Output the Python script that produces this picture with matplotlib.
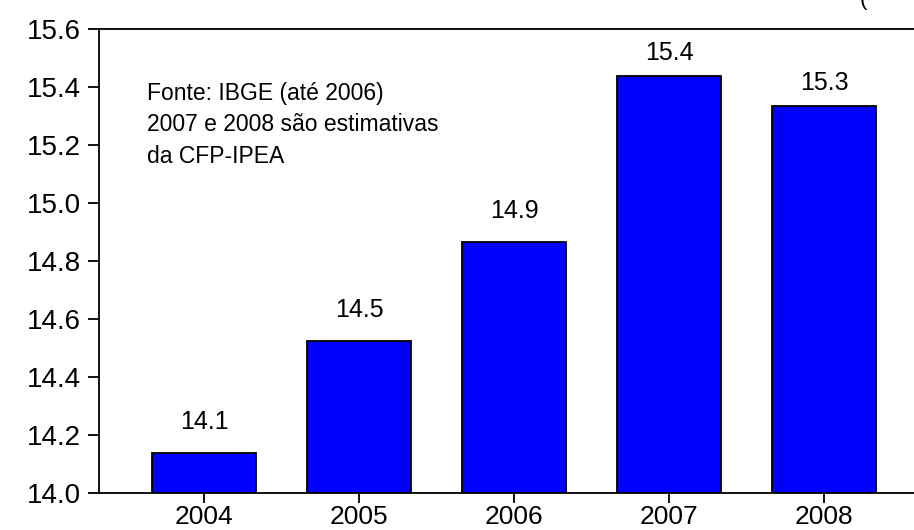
import matplotlib
matplotlib.use("Agg")
import matplotlib.pyplot as plt

years = ["2004", "2005", "2006", "2007", "2008"]
values = [14.138, 14.524, 14.866, 15.438, 15.334]
labels = ["14.1", "14.5", "14.9", "15.4", "15.3"]
yticks = [14.0, 14.2, 14.4, 14.6, 14.8, 15.0, 15.2, 15.4, 15.6]

plt.rcParams['font.family'] = ['Liberation Sans', 'DejaVu Sans']

fig = plt.figure(figsize=(9.14, 5.30), dpi=100)
ax = fig.add_axes([99 / 914, 37 / 530, 1 - 99 / 914, 464 / 530])

x = list(range(len(years)))
ax.bar(x, values, width=0.67, bottom=0, color='#0000FF', edgecolor='black', linewidth=1.3)

for xi, v, lab in zip(x, values, labels):
    # labels near the top of the axes sit a little closer to their bar
    off = 0.107 if v < 15.2 else 0.08
    ax.text(xi, v + off, lab, ha='center', va='center', fontsize=18)

ax.set_ylim(14.0, 15.6)
ax.set_xlim(-0.68, 4.58)
ax.set_yticks(yticks)
ax.set_yticklabels([f"{t:.1f}" for t in yticks], fontsize=20)
ax.set_xticks(x)
ax.set_xticklabels(years, fontsize=19)
ax.tick_params(axis='y', direction='out', length=8, width=1.3, pad=5)
ax.tick_params(axis='x', direction='out', length=7, width=1.3, pad=1.5)

ax.spines['right'].set_visible(False)
for s in ['left', 'bottom', 'top']:
    ax.spines[s].set_linewidth(1.3)

ax.text(0.059, 0.885, "Fonte: IBGE (até 2006)\n2007 e 2008 são estimativas\nda CFP-IPEA",
        transform=ax.transAxes, ha='left', va='top', fontsize=16.5, linespacing=1.45)

fig.text(0.940, 1.0, "(", fontsize=16, ha='left', va='center')

fig.savefig("out.png", dpi=100)
